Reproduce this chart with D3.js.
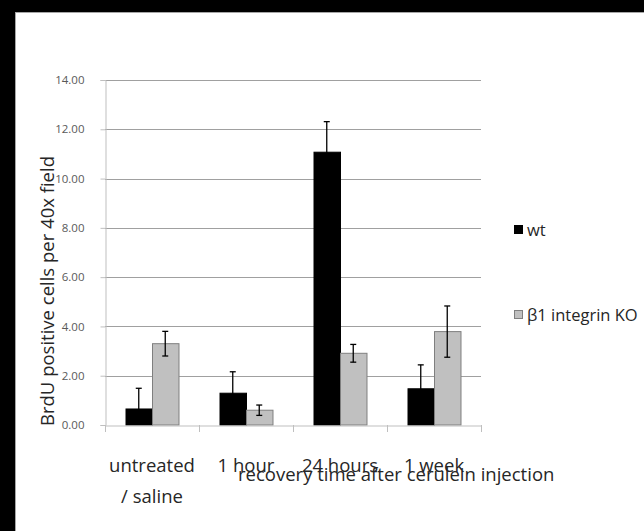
<!DOCTYPE html>
<html>
<head>
<meta charset="utf-8">
<script src="https://cdn.jsdelivr.net/npm/d3@7"></script>
<style>
  body { margin: 0; background: #fff; }
  text { font-family: "Open Sans", "Noto Sans", sans-serif; }
</style>
</head>
<body>
<div id="main"></div>
<script>
// values
var categories = ["untreated / saline", "1 hour", "24 hours", "1 week"]
var catLines = [["untreated", "/ saline"], ["1 hour"], ["24 hours"], ["1 week"]]
var series = ["wt", "β1 integrin KO"]
var wt = [0.65, 1.29, 11.07, 1.47]
var wtErr = [0.84, 0.87, 1.24, 0.97]
var ko = [3.30, 0.60, 2.91, 3.79]
var koErr = [0.50, 0.21, 0.36, 1.04]
var yTicks = [0, 2, 4, 6, 8, 10, 12, 14]

var W = 644, H = 531
var colors = { "wt": "#000000", "β1 integrin KO": "#c0c0c0" }
var strokes = { "wt": "#000000", "β1 integrin KO": "#7f7f7f" }

var svg = d3.select("#main").append("svg").attr("width", W).attr("height", H)

// black frame at top / left
svg.append("rect").attr("x", 0).attr("y", 0).attr("width", W).attr("height", 12).attr("fill", "#000")
svg.append("rect").attr("x", 0).attr("y", 0).attr("width", 15).attr("height", H).attr("fill", "#000")
svg.append("line").attr("x1", 15).attr("x2", W).attr("y1", 12.5).attr("y2", 12.5).attr("stroke", "#a6a6a6")
svg.append("line").attr("x1", 15.5).attr("x2", 15.5).attr("y1", 12).attr("y2", H).attr("stroke", "#a6a6a6")

var x = d3.scaleBand().domain(categories).range([105, 481]).padding(0)
var xs = d3.scaleBand().domain(series).range([0, x.bandwidth()]).paddingInner(0).paddingOuter(0.774)
var y = d3.scaleLinear().domain([0, 14]).range([425, 80])

// gridlines
svg.append("g").selectAll("line")
  .data(yTicks.filter(d => d > 0))
  .enter().append("line")
  .attr("x1", 105).attr("x2", 481)
  .attr("y1", d => Math.round(y(d)) + 0.5).attr("y2", d => Math.round(y(d)) + 0.5)
  .attr("stroke", "#a0a0a0")

// y axis
var yAxis = svg.append("g").attr("transform", "translate(105.5,0)")
  .call(d3.axisLeft(y).tickValues(yTicks).tickFormat(d3.format(".2f")).tickSize(5).tickPadding(16))
yAxis.select(".domain").attr("stroke", "#bfbfbf")
yAxis.selectAll(".tick line").attr("stroke", "#bfbfbf")
yAxis.selectAll(".tick text").attr("fill", "#595959").style("font-size", "11.5px")
  .style("font-family", "'Liberation Sans Narrow', 'Open Sans', sans-serif")

// bars
var rows = categories.map((c, i) => ({ cat: c, vals: [
  { s: series[0], v: wt[i], e: wtErr[i] },
  { s: series[1], v: ko[i], e: koErr[i] }
] }))

var groups = svg.append("g").selectAll("g")
  .data(rows)
  .enter().append("g")
  .attr("transform", d => `translate(${x(d.cat)},0)`)

groups.selectAll("rect")
  .data(d => d.vals)
  .enter().append("rect")
  .attr("x", d => xs(d.s) + 0.5)
  .attr("y", d => y(d.v))
  .attr("width", xs.bandwidth())
  .attr("height", d => y(0) - y(d.v))
  .attr("fill", d => colors[d.s])
  .attr("stroke", d => strokes[d.s])

// error bars (clipped at the x axis like the original)
var eb = groups.selectAll("g.err")
  .data(d => d.vals)
  .enter().append("g").attr("class", "err")
  .attr("stroke", "#000").attr("stroke-width", 1.3)
eb.append("line")
  .attr("x1", d => xs(d.s) + xs.bandwidth() / 2).attr("x2", d => xs(d.s) + xs.bandwidth() / 2)
  .attr("y1", d => y(Math.max(0, d.v - d.e))).attr("y2", d => y(d.v + d.e))
eb.selectAll("line.cap")
  .data(d => [{ s: d.s, yv: d.v + d.e }, { s: d.s, yv: d.v - d.e }].filter(c => c.yv >= 0))
  .enter().append("line").attr("class", "cap")
  .attr("x1", d => xs(d.s) + xs.bandwidth() / 2 - 3).attr("x2", d => xs(d.s) + xs.bandwidth() / 2 + 3)
  .attr("y1", d => y(d.yv)).attr("y2", d => y(d.yv))

// x axis
var xAxis = svg.append("g").attr("transform", "translate(0,425.5)")
  .call(d3.axisBottom(x).tickSize(0).tickFormat(""))
xAxis.select(".domain").attr("stroke", "#bfbfbf")
svg.append("g").selectAll("line")
  .data(categories.map(c => x(c)).concat([x.range()[1]]))
  .enter().append("line")
  .attr("x1", d => Math.round(d) + 0.5).attr("x2", d => Math.round(d) + 0.5)
  .attr("y1", 425).attr("y2", 432)
  .attr("stroke", "#bfbfbf")

// category labels
svg.append("g").selectAll("text")
  .data(categories)
  .enter().append("text")
  .attr("x", d => x(d) + x.bandwidth() / 2)
  .attr("y", 472)
  .attr("text-anchor", "middle")
  .attr("fill", "#262626")
  .style("font-size", "18.5px")
  .each(function (d, i) {
    d3.select(this).selectAll("tspan")
      .data(catLines[i])
      .enter().append("tspan")
      .attr("x", x(d) + x.bandwidth() / 2)
      .attr("dy", (t, j) => j ? 31 : 0)
      .text(t => t)
  })

// axis titles
svg.append("text")
  .attr("x", 238).attr("y", 481)
  .attr("fill", "#262626")
  .style("font-size", "18.5px")
  .text("recovery time after cerulein injection")

svg.append("text")
  .attr("transform", "translate(46,291) rotate(-90)")
  .attr("text-anchor", "middle")
  .attr("dominant-baseline", "central")
  .attr("fill", "#262626")
  .style("font-size", "18.5px")
  .text("BrdU positive cells per 40x field")

// legend
var leg = svg.append("g").selectAll("g")
  .data(series)
  .enter().append("g")
  .attr("transform", (d, i) => `translate(514,${i ? 314 : 229})`)
leg.append("rect")
  .attr("x", 0.5).attr("y", -3.5).attr("width", 8).attr("height", 8)
  .attr("fill", d => colors[d]).attr("stroke", d => strokes[d])
leg.append("text")
  .attr("x", 13).attr("y", 0)
  .attr("dominant-baseline", "central")
  .attr("fill", "#262626")
  .style("font-size", "16.5px")
  .text(d => d)
</script>
</body>
</html>
